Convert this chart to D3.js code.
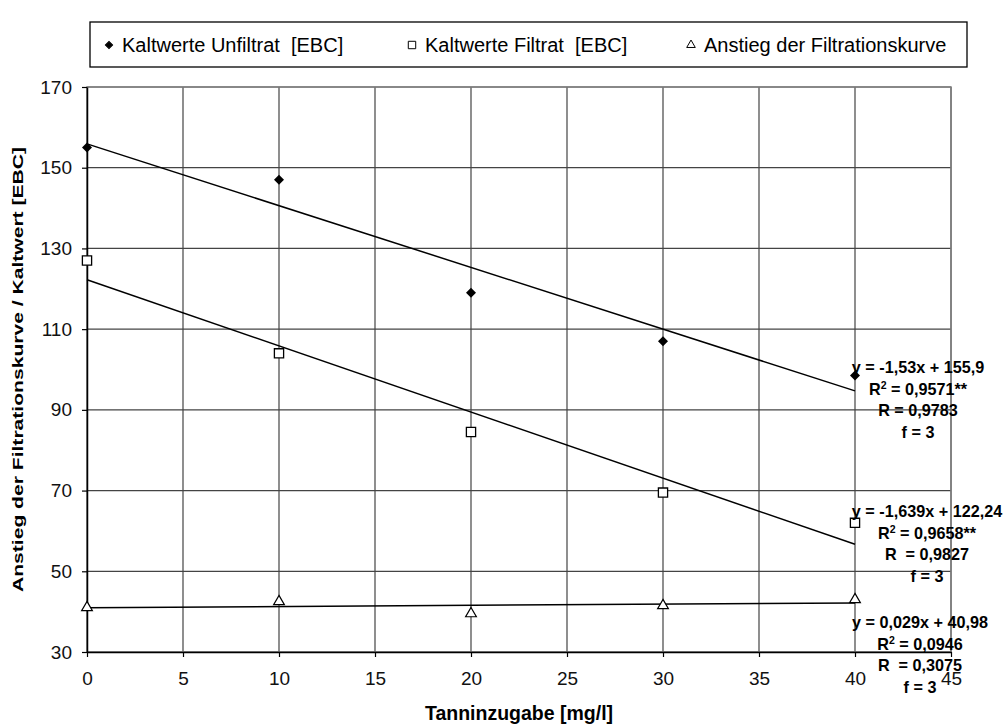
<!DOCTYPE html>
<html>
<head>
<meta charset="utf-8">
<script src="https://cdn.jsdelivr.net/npm/d3@7"></script>
<style>
  html, body { margin: 0; padding: 0; background: #fff; }
  svg { display: block; font-family: "Liberation Sans", Arial, sans-serif; }
  text { white-space: pre; }
</style>
</head>
<body>
<svg id="chart" width="1003" height="725"></svg>
<script>
// Tannin dosage (mg/l)
const dosage = [0, 10, 20, 30, 40];
// Series values
const unfiltrat = [155, 147, 119, 107, 98.5];
const filtrat = [127, 104, 84.5, 69.5, 62];
const anstieg = [41, 42.5, 39.5, 41.5, 43];
// Linear trend coefficients [slope, intercept]
const trendUnfiltrat = [-1.53, 155.9];
const trendFiltrat = [-1.639, 122.24];
const trendAnstieg = [0.029, 40.98];
// Axis ticks
const xTicks = [0, 5, 10, 15, 20, 25, 30, 35, 40, 45];
const yTicks = [30, 50, 70, 90, 110, 130, 150, 170];
// Legend and regression labels
const seriesNames = ["Kaltwerte Unfiltrat  [EBC]", "Kaltwerte Filtrat  [EBC]", "Anstieg der Filtrationskurve"];
const statsUnfiltrat = ["y = -1,53x + 155,9", "R|2| = 0,9571**", "R = 0,9783", "f = 3"];
const statsFiltrat = ["y = -1,639x + 122,24", "R|2| = 0,9658**", "R  = 0,9827", "f = 3"];
const statsAnstieg = ["y = 0,029x + 40,98", "R|2| = 0,0946", "R  = 0,3075", "f = 3"];

const svg = d3.select("#chart");
const x = d3.scaleLinear().domain([0, 45]).range([87, 951]);
const y = d3.scaleLinear().domain([30, 170]).range([652, 87]);

// Grid
const grid = svg.append("g");
grid.selectAll("line.h").data(yTicks).join("line")
  .attr("x1", x(0)).attr("x2", x(45))
  .attr("y1", d => y(d)).attr("y2", d => y(d))
  .attr("stroke", "#444").attr("stroke-width", 1.2);
grid.selectAll("line.v").data(xTicks).join("line")
  .attr("y1", y(30)).attr("y2", y(170))
  .attr("x1", d => x(d)).attr("x2", d => x(d))
  .attr("stroke", "#444").attr("stroke-width", 1.2);
svg.append("rect")
  .attr("x", x(0)).attr("y", y(170))
  .attr("width", x(45) - x(0)).attr("height", y(30) - y(170))
  .attr("fill", "none").attr("stroke", "#808080").attr("stroke-width", 1.5);

// Axes
const yAxis = svg.append("g").attr("transform", `translate(${x(0)},0)`)
  .call(d3.axisLeft(y).tickValues(yTicks).tickSize(5).tickSizeOuter(0).tickPadding(10));
const xAxis = svg.append("g").attr("transform", `translate(0,${y(30)})`)
  .call(d3.axisBottom(x).tickValues(xTicks).tickSize(5).tickSizeOuter(0).tickPadding(15));
[yAxis, xAxis].forEach(a => {
  a.select(".domain").attr("stroke", "#000").attr("stroke-width", 1.5);
  a.selectAll(".tick line").attr("stroke", "#000").attr("stroke-width", 1.2);
  a.selectAll(".tick text").attr("font-size", 19).attr("fill", "#111")
    .attr("font-family", "Liberation Sans, Arial, sans-serif");
});

// Axis titles
svg.append("text")
  .attr("x", (x(0) + x(45)) / 2).attr("y", 720)
  .attr("text-anchor", "middle").attr("font-size", 19.5).attr("font-weight", "bold")
  .text("Tanninzugabe [mg/l]");
svg.append("text")
  .attr("transform", `translate(23,${(y(30) + y(170)) / 2}) rotate(-90) scale(1.36,1)`)
  .attr("text-anchor", "middle").attr("font-size", 15.5).attr("font-weight", "bold")
  .text("Anstieg der Filtrationskurve / Kaltwert [EBC]");

// Trend lines
const trends = [trendUnfiltrat, trendFiltrat, trendAnstieg];
svg.append("g").selectAll("line").data(trends).join("line")
  .attr("x1", x(0)).attr("x2", x(40))
  .attr("y1", d => y(d[1])).attr("y2", d => y(d[0] * 40 + d[1]))
  .attr("stroke", "#000").attr("stroke-width", 1.5);

// Markers
const diamond = d3.symbol().type(d3.symbolSquare).size(50);
const square = d3.symbol().type(d3.symbolSquare).size(85);
const triangle = d3.symbol().type(d3.symbolTriangle).size(50);

const marks = svg.append("g");
marks.selectAll("path.u").data(unfiltrat).join("path")
  .attr("transform", (d, i) => `translate(${x(dosage[i])},${y(d)}) rotate(45)`)
  .attr("d", diamond).attr("fill", "#000");
marks.selectAll("path.f").data(filtrat).join("path")
  .attr("transform", (d, i) => `translate(${x(dosage[i])},${y(d)})`)
  .attr("d", square).attr("fill", "#fff").attr("stroke", "#000").attr("stroke-width", 1.3);
marks.selectAll("path.a").data(anstieg).join("path")
  .attr("transform", (d, i) => `translate(${x(dosage[i])},${y(d)})`)
  .attr("d", triangle).attr("fill", "#fff").attr("stroke", "#000").attr("stroke-width", 1.2);

// Regression statistics blocks
function statsBlock(lines, cx, cy) {
  const t = svg.append("text").attr("text-anchor", "middle")
    .attr("font-size", 16.2).attr("font-weight", "bold").attr("fill", "#000");
  lines.forEach((s, i) => {
    const line = t.append("tspan").attr("x", cx).attr("y", cy + i * 21.5);
    const parts = s.split("|");
    line.append("tspan").text(parts[0]);
    if (parts.length > 1) {
      line.append("tspan").attr("font-size", 10.5).attr("dy", -6).text(parts[1]);
      line.append("tspan").attr("dy", 6).text(parts[2]);
    }
  });
}
statsBlock(statsUnfiltrat, 918, 373);
statsBlock(statsFiltrat, 927, 517);
statsBlock(statsAnstieg, 920, 628);

// Legend
const legend = svg.append("g");
legend.append("rect").attr("x", 90).attr("y", 22).attr("width", 877).attr("height", 45)
  .attr("fill", "#fff").attr("stroke", "#000").attr("stroke-width", 1.3);
const legendX = [109, 412, 691];
const legendSymbols = [
  { sym: d3.symbol().type(d3.symbolSquare).size(26), fill: "#000", rot: 45 },
  { sym: d3.symbol().type(d3.symbolSquare).size(55), fill: "#fff", rot: 0 },
  { sym: d3.symbol().type(d3.symbolTriangle).size(32), fill: "#fff", rot: 0 }
];
seriesNames.forEach((name, i) => {
  legend.append("path").attr("transform", `translate(${legendX[i]},45) rotate(${legendSymbols[i].rot})`)
    .attr("d", legendSymbols[i].sym).attr("fill", legendSymbols[i].fill)
    .attr("stroke", "#000").attr("stroke-width", 1);
  legend.append("text").attr("x", legendX[i] + 13).attr("y", 52)
    .attr("font-size", 20).attr("fill", "#000").text(name);
});
</script>
</body>
</html>
